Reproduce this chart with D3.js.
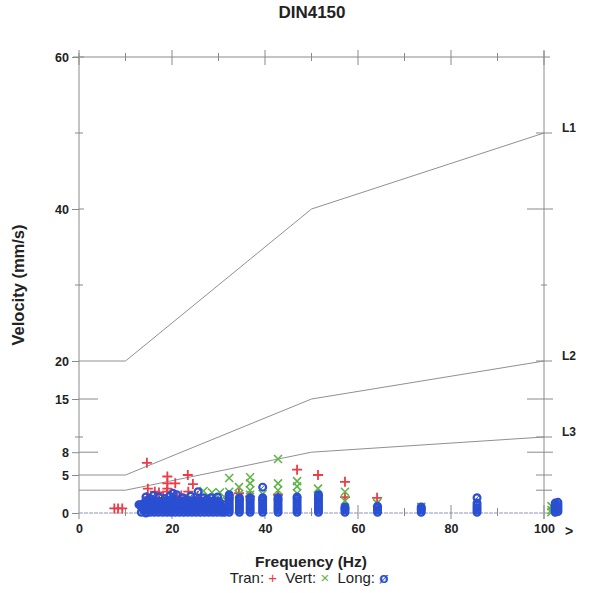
<!DOCTYPE html>
<html>
<head>
<meta charset="utf-8">
<script src="https://cdn.jsdelivr.net/npm/d3@7"></script>
<style>
  body { margin: 0; background: #fff; }
  text { font-family: "Liberation Sans", Arial, sans-serif; }
</style>
</head>
<body>
<script>
// DIN4150 - limit lines and measured peaks
let WIDTH = 591, HEIGHT = 593;

// tick values / labels
let yTicks = [0, 5, 8, 15, 20, 40, 60];
let yMinor = [10, 30, 50];
let xLabels = [0, 20, 40, 60, 80, 100];
let xMajor = [0, 20, 40, 60, 80, 100];
let xMinor = [10, 30, 50, 70, 90];
let rightLong = [40, 15, 8];
let rightShort = [50, 20, 10, 5, 3];

// limit lines (Hz, mm/s)
let L1 = [[0, 20], [10, 20], [50, 40], [100, 50]];
let L2 = [[0, 5], [10, 5], [50, 15], [100, 20]];
let L3 = [[0, 3], [10, 3], [50, 8], [100, 10]];
let lineNames = ["L1", "L2", "L3"];

// Tran (+)
let tranPts = [
  [7.6, 0.6], [8.4, 0.6], [9.3, 0.6],
  [14.6, 6.6], [19.0, 4.8], [23.4, 5.0],
  [19.0, 3.9], [20.7, 3.9], [24.5, 3.8],
  [14.8, 3.2], [19.0, 3.2], [16.3, 2.8], [17.2, 2.7], [18.9, 2.8], [23.5, 2.8],
  [14.6, 2.1], [18.1, 2.0], [20.5, 2.2], [22.0, 2.3], [25.5, 2.2],
  [13.8, 1.3], [16.0, 1.6], [17.5, 1.4], [21.0, 1.8], [26.5, 1.4], [28.0, 1.2],
  [32.2, 1.9], [34.4, 2.6], [36.8, 2.2], [42.8, 2.4],
  [46.9, 5.7], [51.4, 5.0], [57.2, 4.1], [57.2, 2.1], [64.1, 2.0]
];

// Vert (x)
let vertPts = [
  [13.5, 1.0], [22.0, 1.6], [24.0, 2.0], [26.8, 2.9], [27.5, 1.9],
  [28.6, 2.7], [30.3, 2.7], [30.5, 1.7],
  [32.3, 4.6], [32.3, 2.8], [34.4, 3.4], [34.4, 2.5],
  [36.8, 4.7], [36.8, 3.9], [36.8, 3.0], [36.8, 2.4], [39.5, 2.5],
  [42.8, 7.1], [42.8, 3.9], [42.8, 3.0],
  [46.9, 4.2], [46.9, 3.5], [46.9, 2.6],
  [51.4, 3.2], [51.4, 2.3], [57.2, 2.8], [57.2, 1.6], [64.1, 1.3],
  [73.6, 0.8], [101.6, 0.9], [101.6, 0.4], [101.6, 0.1]
];

// Long (ø)
let longPts = [
  // dense cluster 13 - 31 Hz
  [13.4, 0.1], [14.4, 0.1], [15.3, 0.1], [16.2, 0.1], [17.1, 0.1], [18.0, 0.1], [18.9, 0.1],
  [19.8, 0.1], [20.7, 0.1], [21.6, 0.1], [22.5, 0.1], [23.4, 0.1], [24.3, 0.1], [25.2, 0.1],
  [26.1, 0.1], [27.0, 0.1], [27.9, 0.1], [28.8, 0.1], [29.7, 0.1], [30.6, 0.1], [31.3, 0.1],
  [13.9, 0.35], [14.8, 0.35], [15.8, 0.35], [16.7, 0.35], [17.6, 0.35], [18.5, 0.35], [19.4, 0.35],
  [20.3, 0.35], [21.2, 0.35], [22.1, 0.35], [23.0, 0.35], [23.9, 0.35], [24.8, 0.35], [25.7, 0.35],
  [26.6, 0.35], [27.5, 0.35], [28.4, 0.35], [29.3, 0.35], [30.2, 0.35], [31.0, 0.35],
  [13.8, 0.6], [14.8, 0.6], [15.7, 0.6], [16.6, 0.6], [17.5, 0.6], [18.4, 0.6], [19.3, 0.6],
  [20.2, 0.6], [21.1, 0.6], [22.0, 0.6], [22.9, 0.6], [23.8, 0.6], [24.7, 0.6], [25.6, 0.6],
  [26.5, 0.6], [27.4, 0.6], [28.3, 0.6], [29.2, 0.6], [30.1, 0.6], [31.0, 0.6],
  [13.4, 0.85], [14.3, 0.85], [15.2, 0.85], [16.1, 0.85], [17.0, 0.85], [17.9, 0.85], [18.8, 0.85],
  [19.7, 0.85], [20.6, 0.85], [21.5, 0.85], [22.4, 0.85], [23.3, 0.85], [24.2, 0.85], [25.1, 0.85],
  [26.0, 0.85], [26.9, 0.85], [27.8, 0.85], [28.7, 0.85], [29.6, 0.85], [30.5, 0.85],
  [13.2, 1.1], [14.2, 1.1], [15.1, 1.1], [16.0, 1.1], [16.9, 1.1], [17.8, 1.1], [18.7, 1.1],
  [19.6, 1.1], [20.5, 1.1], [21.4, 1.1], [22.3, 1.1], [23.2, 1.1], [24.1, 1.1], [25.0, 1.1],
  [25.9, 1.1], [26.8, 1.1], [27.7, 1.1], [28.6, 1.1], [29.5, 1.1], [30.4, 1.1], [31.2, 1.1],
  [14.1, 1.35], [15.0, 1.35], [15.9, 1.35], [16.8, 1.35], [17.7, 1.35], [18.6, 1.35], [19.5, 1.35],
  [20.4, 1.35], [21.3, 1.35], [22.2, 1.35], [23.1, 1.35], [24.0, 1.35], [24.9, 1.35], [25.8, 1.35],
  [26.7, 1.35], [27.6, 1.35], [28.5, 1.35], [29.4, 1.35], [30.3, 1.35],
  [14.6, 1.6], [15.6, 1.5], [16.4, 1.6], [17.4, 1.5], [18.3, 1.6], [19.2, 1.6], [20.0, 1.5],
  [21.0, 1.6], [21.8, 1.5], [22.7, 1.6], [23.6, 1.5], [24.6, 1.6], [25.4, 1.6], [26.3, 1.5],
  [27.2, 1.6], [28.1, 1.5], [29.0, 1.6], [30.0, 1.5],
  [12.9, 1.1], [14.4, 2.1], [17.2, 2.1], [14.4, 0.0], [21.0, 2.4], [25.6, 2.8], [23.2, 1.7],
  [19.5, 2.2], [16.0, 2.3], [18.5, 1.9], [26.8, 2.0], [28.4, 2.0], [29.8, 2.1], [24.0, 2.2],
  [22.3, 2.0], [20.2, 2.6], [15.3, 1.9], [27.6, 1.8],
  // columns
  [32.3, 0.1], [32.3, 0.4], [32.3, 0.7], [32.3, 1.0], [32.3, 1.3], [32.3, 1.6], [32.3, 1.9], [32.3, 2.2], [32.3, 2.4],
  [34.5, 0.1], [34.5, 0.4], [34.5, 0.7], [34.5, 1.0], [34.5, 1.3], [34.5, 1.6], [34.5, 1.8], [34.5, 2.0],
  [36.8, 0.1], [36.8, 0.4], [36.8, 0.7], [36.8, 1.0], [36.8, 1.3], [36.8, 1.6], [36.8, 1.8], [36.8, 2.0],
  [39.5, 0.1], [39.5, 0.4], [39.5, 0.7], [39.5, 1.0], [39.5, 1.3], [39.5, 1.6], [39.5, 1.8], [39.5, 2.0], [39.5, 3.4],
  [42.8, 0.1], [42.8, 0.4], [42.8, 0.7], [42.8, 1.0], [42.8, 1.3], [42.8, 1.6], [42.8, 1.8], [42.8, 2.0],
  [46.9, 0.1], [46.9, 0.4], [46.9, 0.7], [46.9, 1.0], [46.9, 1.3], [46.9, 1.6], [46.9, 1.9], [46.9, 2.1],
  [51.5, 0.1], [51.5, 0.4], [51.5, 0.7], [51.5, 1.0], [51.5, 1.3], [51.5, 1.6], [51.5, 1.9], [51.5, 2.2], [51.5, 2.4],
  [57.2, 0.1], [57.2, 0.4], [57.2, 0.6], [57.2, 0.8],
  [64.2, 0.1], [64.2, 0.4], [64.2, 0.7], [64.2, 0.9],
  [73.6, 0.1], [73.6, 0.4], [73.6, 0.6], [73.6, 0.8],
  [85.6, 0.1], [85.6, 0.4], [85.6, 0.7], [85.6, 1.0], [85.6, 1.3], [85.6, 2.0],
  [102.4, 0.1], [102.4, 0.4], [102.4, 0.7], [102.4, 1.0], [102.4, 1.3],
  [103.0, 0.2], [103.0, 0.5], [103.0, 0.8], [103.0, 1.1], [103.0, 1.4]
];

let RED = "#ee3b45", GREEN = "#5fb548", BLUE = "#2a4fd2", GRID = "#8a8a8a";

let x = d3.scaleLinear().domain([0, 100]).range([79, 544]);
let y = d3.scaleLinear().domain([0, 60]).range([513, 57]);

let svg = d3.select("body").append("svg")
  .attr("width", WIDTH).attr("height", HEIGHT);

// title
svg.append("text").attr("x", 312).attr("y", 18)
  .attr("text-anchor", "middle").attr("font-size", 17).attr("font-weight", "bold")
  .attr("fill", "#222").text("DIN4150");

// frame
let frame = svg.append("g").attr("stroke", GRID).attr("stroke-width", 1).attr("fill", "none");
frame.append("line").attr("x1", x(0)).attr("x2", x(0)).attr("y1", y(60) - 4).attr("y2", y(0) + 6);
frame.append("line").attr("x1", x(0) - 6).attr("x2", x(100) + 6).attr("y1", y(60)).attr("y2", y(60));
frame.append("line").attr("x1", x(100)).attr("x2", x(100)).attr("y1", y(60) - 6).attr("y2", y(0) + 6);
frame.append("line").attr("x1", x(0)).attr("x2", x(100) + 4).attr("y1", y(0)).attr("y2", y(0))
  .attr("stroke", "#8f96b8").attr("stroke-dasharray", "4,1");

// top ticks
frame.selectAll(".tmaj").data(xMajor).enter().append("line")
  .attr("x1", d => x(d)).attr("x2", d => x(d)).attr("y1", y(60) - 7).attr("y2", y(60) + 8);
frame.selectAll(".tmin").data(xMinor).enter().append("line")
  .attr("x1", d => x(d)).attr("x2", d => x(d)).attr("y1", y(60) - 4).attr("y2", y(60) + 4);
// bottom ticks
frame.selectAll(".bmaj").data(xMajor.slice(1)).enter().append("line")
  .attr("x1", d => x(d)).attr("x2", d => x(d)).attr("y1", y(0) - 8).attr("y2", y(0) + 6);
frame.selectAll(".bmin").data(xMinor).enter().append("line")
  .attr("x1", d => x(d)).attr("x2", d => x(d)).attr("y1", y(0) - 5).attr("y2", y(0) + 3);
// left minor ticks
frame.selectAll(".lmin").data(yMinor).enter().append("line")
  .attr("x1", x(0) - 4).attr("x2", x(0) + 4).attr("y1", d => y(d)).attr("y2", d => y(d));
// left inward ticks
frame.selectAll(".lin").data([15, 8]).enter().append("line")
  .attr("x1", x(0)).attr("x2", x(0) + 19).attr("y1", d => y(d)).attr("y2", d => y(d));
frame.selectAll(".lin2").data([40, 60]).enter().append("line")
  .attr("x1", x(0)).attr("x2", x(0) + 5).attr("y1", d => y(d)).attr("y2", d => y(d));
// right ticks
frame.selectAll(".rl").data(rightLong).enter().append("line")
  .attr("x1", x(100) - 17).attr("x2", x(100) + 9).attr("y1", d => y(d)).attr("y2", d => y(d));
frame.selectAll(".rs").data(rightShort).enter().append("line")
  .attr("x1", x(100) - 8).attr("x2", x(100) + 8).attr("y1", d => y(d)).attr("y2", d => y(d));
frame.selectAll(".rm").data([30]).enter().append("line")
  .attr("x1", x(100) - 3).attr("x2", x(100) + 3).attr("y1", d => y(d)).attr("y2", d => y(d));

// left axis labels
let yAxis = svg.append("g").attr("transform", `translate(${x(0)},0)`)
  .call(d3.axisLeft(y).tickValues(yTicks).tickSize(7).tickPadding(3).tickSizeOuter(0));
yAxis.select(".domain").remove();
yAxis.selectAll("line").attr("stroke", GRID);
yAxis.selectAll("text").attr("font-size", 12.5).attr("font-weight", "bold")
  .attr("fill", "#222").attr("font-family", "Liberation Sans, Arial, sans-serif");

// bottom axis labels
let xAxis = svg.append("g").attr("transform", `translate(0,${y(0)})`)
  .call(d3.axisBottom(x).tickValues(xLabels).tickSize(0).tickPadding(11));
xAxis.select(".domain").remove();
xAxis.selectAll("text").attr("font-size", 12.5).attr("font-weight", "bold")
  .attr("fill", "#222").attr("font-family", "Liberation Sans, Arial, sans-serif");
svg.append("text").attr("x", 569).attr("y", 536).attr("text-anchor", "middle")
  .attr("font-size", 14).attr("font-weight", "bold").attr("fill", "#222").text(">");

// axis titles
svg.append("text").attr("x", 311).attr("y", 567).attr("text-anchor", "middle")
  .attr("font-size", 15.5).attr("font-weight", "bold").attr("fill", "#222").text("Frequency (Hz)");
svg.append("text").attr("transform", "translate(24,285) rotate(-90)").attr("text-anchor", "middle")
  .attr("font-size", 16.5).attr("font-weight", "bold").attr("fill", "#222").text("Velocity (mm/s)");

// legend
let leg = svg.append("text").attr("x", 309).attr("y", 583).attr("text-anchor", "middle")
  .attr("font-size", 15).attr("fill", "#222").attr("xml:space", "preserve");
leg.append("tspan").text("Tran: ");
leg.append("tspan").attr("fill", RED).text("+");
leg.append("tspan").text("  Vert: ");
leg.append("tspan").attr("fill", GREEN).text("×");
leg.append("tspan").text("  Long: ");
leg.append("tspan").attr("fill", BLUE).attr("font-weight", "bold").text("ø");

// limit lines
let line = d3.line().x(d => x(d[0])).y(d => y(d[1]));
let limits = [L1, L2, L3];
svg.append("g").selectAll("path").data(limits).enter().append("path")
  .attr("d", line).attr("fill", "none").attr("stroke", "#8f8f98").attr("stroke-width", 1);
svg.append("g").selectAll("text").data(limits).enter().append("text")
  .attr("x", 569).attr("y", d => y(d[d.length - 1][1]) - 1)
  .attr("text-anchor", "middle").attr("font-size", 12).attr("font-weight", "bold").attr("fill", "#222")
  .text((d, i) => lineNames[i]);

// points
let pts = svg.append("g");
pts.selectAll(".tran").data(tranPts).enter().append("path")
  .attr("transform", d => `translate(${x(d[0])},${y(d[1])})`)
  .attr("d", "M-5,0H5M0,-5V5").attr("stroke", RED).attr("stroke-width", 1.8).attr("fill", "none");
pts.selectAll(".vert").data(vertPts).enter().append("path")
  .attr("transform", d => `translate(${x(d[0])},${y(d[1])})`)
  .attr("d", "M-4,-4L4,4M-4,4L4,-4").attr("stroke", GREEN).attr("stroke-width", 1.6).attr("fill", "none");
let longG = pts.selectAll(".long").data(longPts).enter().append("g")
  .attr("transform", d => `translate(${x(d[0])},${y(d[1])})`);
longG.append("circle").attr("r", 3.4).attr("fill", "none").attr("stroke", BLUE).attr("stroke-width", 2.2);
longG.append("path").attr("d", "M-1.8,1.8L1.8,-1.8").attr("stroke", BLUE).attr("stroke-width", 1);
</script>
</body>
</html>
